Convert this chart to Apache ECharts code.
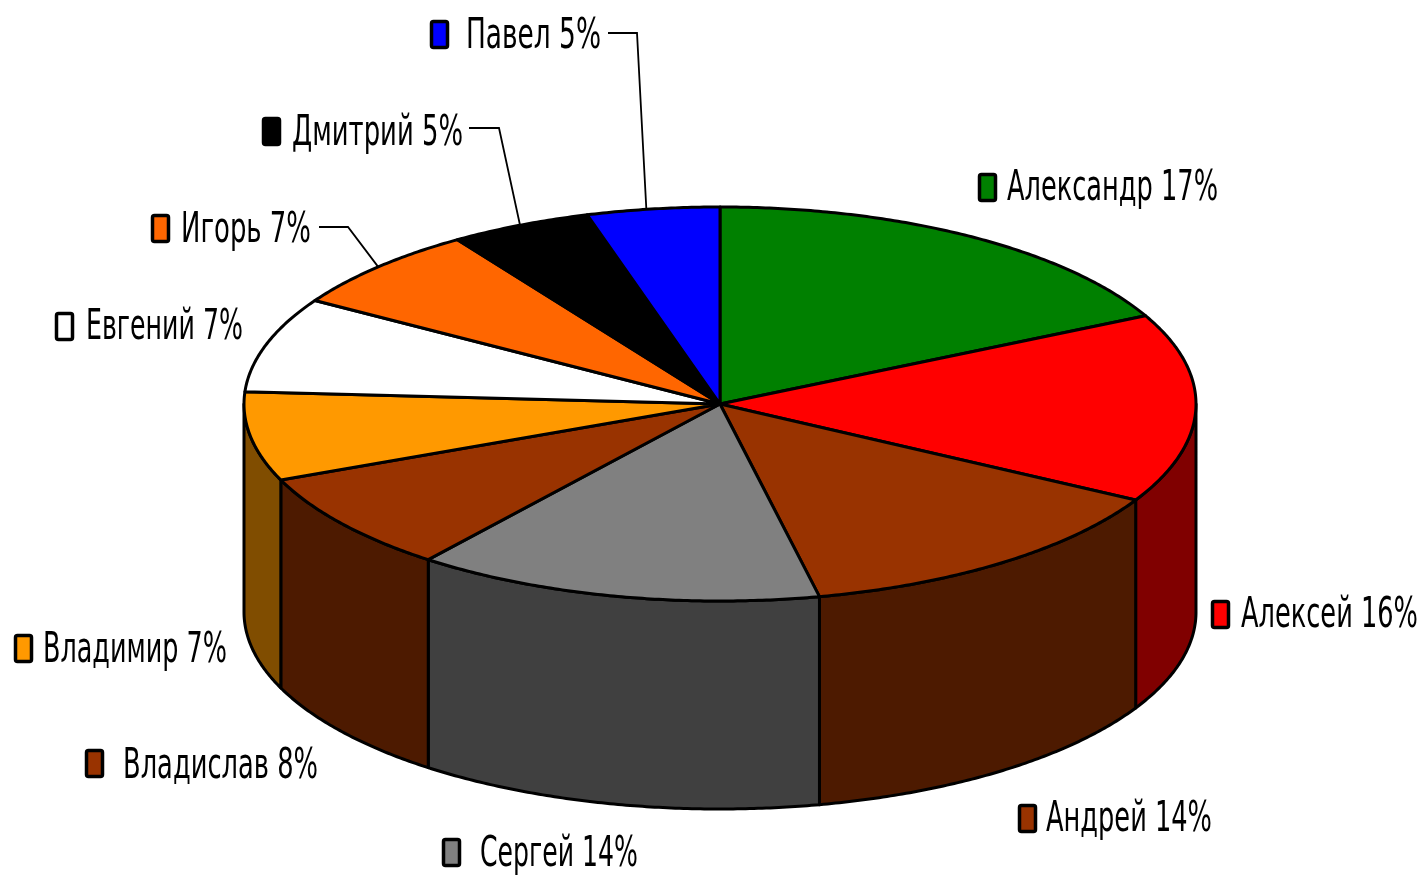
<!DOCTYPE html>
<html>
<head>
<meta charset="utf-8">
<title>Имена</title>
<style>
  html, body { margin: 0; padding: 0; background: #fff; }
  #chart { width: 1426px; height: 875px; }
</style>
<script src="https://cdn.jsdelivr.net/npm/echarts@6/dist/echarts.min.js"></script>
</head>
<body>
<div id="chart"></div>
<script>
// clockwise from 12 o'clock
const names = ['Александр', 'Алексей', 'Андрей', 'Сергей', 'Владислав', 'Владимир', 'Евгений', 'Игорь', 'Дмитрий', 'Павел'];
const percentLabels = [17, 16, 14, 14, 8, 7, 7, 7, 5, 5];
// slice sizes as measured off the pie itself
const sliceShares = [17.6, 15.5, 13.55, 13.85, 8.2, 7.3, 7.8, 6.9, 4.8, 4.5];

const topColors = ['#008000', '#ff0000', '#993300', '#808080', '#993300', '#ff9900', '#ffffff', '#ff6600', '#000000', '#0000ff'];
const wallColors = ['#004000', '#800000', '#4d1a00', '#404040', '#4d1a00', '#804d00', '#808080', '#803300', '#000000', '#000080'];

// marker left, marker top, text left, text right, text middle
const labelBoxes = [
  [978, 173, 1007, 1218, 189],
  [1211, 600, 1241, 1418, 616],
  [1018, 804, 1046, 1212, 820],
  [442, 838, 480, 638, 855],
  [85, 749, 123, 318, 767],
  [14, 634, 43, 227, 651],
  [55, 312, 86, 243, 328],
  [151, 214, 181, 311, 231],
  [262, 117, 292, 463, 134],
  [430, 20, 466, 601, 37]
];
// leader lines go from the label to the rim of the slice, nudge is in degrees
const leaders = {
  7: { points: [[319, 227], [348, 227]], nudge: 0 },
  8: { points: [[469, 128], [499, 128]], nudge: 0 },
  9: { points: [[608, 33], [637, 33]], nudge: -0.8 }
};

const cx = 720, cy = 404, rx = 476, ry = 197, depth = 208;
const font = '43px "DejaVu Sans"';

const total = sliceShares.reduce((a, b) => a + b, 0);
let run = 0;
const starts = sliceShares.map(v => { const s = run; run += v; return s / total * 360; });
const ends = sliceShares.map((v, i) => starts[i] + v / total * 360);

function rim(deg, drop) {
  const r = deg * Math.PI / 180;
  return [cx + rx * Math.sin(r), cy - ry * Math.cos(r) + (drop || 0)];
}
function arc(from, to, drop) {
  const pts = [];
  const n = Math.max(2, Math.ceil(Math.abs(to - from) * 2));
  for (let k = 0; k <= n; k++) pts.push(rim(from + (to - from) * k / n, drop));
  return pts;
}

const measure = document.createElement('canvas').getContext('2d');
measure.font = font;

function labelText(i) {
  return names[i] + ' ' + percentLabels[i] + '%';
}

const myChart = echarts.init(document.getElementById('chart'));
myChart.setOption({
  animation: false,
  backgroundColor: '#fff',
  tooltip: { show: false },
  series: [
    {
      // front wall of the cylinder
      type: 'custom',
      coordinateSystem: 'none',
      silent: true,
      data: sliceShares.map((v, i) => [i, v]),
      renderItem: function (params, api) {
        const i = api.value(0);
        const a = Math.max(starts[i], 90), b = Math.min(ends[i], 270);
        if (a >= b) return { type: 'group', children: [] };
        const pts = arc(a, b, 0).concat(arc(b, a, depth));
        return {
          type: 'polygon',
          shape: { points: pts },
          style: { fill: wallColors[i], stroke: '#000', lineWidth: 3, lineJoin: 'round' }
        };
      }
    },
    {
      // top face
      type: 'custom',
      coordinateSystem: 'none',
      silent: true,
      data: sliceShares.map((v, i) => [i, v]),
      renderItem: function (params, api) {
        const i = api.value(0);
        const pts = [[cx, cy]].concat(arc(starts[i], ends[i], 0));
        return {
          type: 'polygon',
          shape: { points: pts },
          style: { fill: topColors[i], stroke: '#000', lineWidth: 3, lineJoin: 'round' }
        };
      }
    },
    {
      // labels with their colour keys
      type: 'custom',
      coordinateSystem: 'none',
      silent: true,
      data: sliceShares.map((v, i) => [i, v]),
      renderItem: function (params, api) {
        const i = api.value(0);
        const box = labelBoxes[i];
        const text = labelText(i);
        const children = [
          {
            type: 'rect',
            shape: { x: box[0] + 1.5, y: box[1] + 1.5, width: 16, height: 26, r: 2 },
            style: { fill: topColors[i], stroke: '#000', lineWidth: 3.5 }
          },
          {
            type: 'text',
            x: box[2],
            y: box[4],
            scaleX: (box[3] - box[2]) / measure.measureText(text).width,
            style: { text: text, x: 0, y: 0, font: font, fill: '#000', align: 'left', verticalAlign: 'middle' }
          }
        ];
        if (leaders[i]) {
          const mid = (starts[i] + ends[i]) / 2 + leaders[i].nudge;
          children.push({
            type: 'polyline',
            shape: { points: leaders[i].points.concat([rim(mid, 0)]) },
            style: { fill: 'none', stroke: '#000', lineWidth: 1.8 }
          });
        }
        return { type: 'group', children: children };
      }
    }
  ]
});
window.addEventListener('resize', function () {
  myChart.resize();
});
</script>
</body>
</html>
